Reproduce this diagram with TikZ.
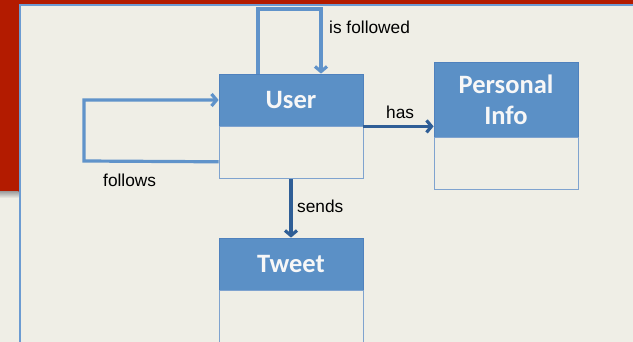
\documentclass[tikz,border=0pt]{standalone}
\usepackage{fontspec}
\setmainfont{Liberation Sans}
\newfontfamily\titlefont{Carlito}
\usetikzlibrary{arrows.meta}
\definecolor{cream}{HTML}{EFEEE6}
\definecolor{slidered}{HTML}{B31B00}
\definecolor{panelblue}{HTML}{6C9BD2}
\definecolor{headblue}{HTML}{5B90C6}
\definecolor{edgeblue}{HTML}{4F81BD}
\definecolor{bodyedge}{HTML}{7FA3CF}
\definecolor{loopblue}{HTML}{6093CA}
\definecolor{darkblue}{HTML}{2F5E96}
\tikzset{
  header/.style={rectangle, fill=headblue, draw=edgeblue, line width=0.8pt,
    minimum width=144pt, minimum height=52pt, inner sep=0pt,
    font=\titlefont\bfseries\fontsize{26.5}{31}\selectfont, text=white!97!black, align=center},
  bodybox/.style={rectangle, fill=cream, draw=bodyedge, line width=0.8pt,
    minimum width=144pt, minimum height=52pt, inner sep=0pt},
  loopline/.style={draw=loopblue, line width=3.2pt, -{Straight Barb[length=5pt,width=12pt]}},
  relline/.style={draw=darkblue, line width=3.2pt, -{Straight Barb[length=5pt,width=12pt]}},
  rellabel/.style={font=\fontsize{17.3}{20}\selectfont, text=black, inner sep=0pt}
}
\begin{document}
\begin{tikzpicture}[x=1pt,y=-1pt]
\fill[cream] (0,0) rectangle (633,342);
\useasboundingbox (0,0) rectangle (633,342);
\fill[slidered] (0,0) rectangle (633,3.6);
\fill[slidered] (0,0) rectangle (18.5,192);
\shade[top color=black!35, bottom color=cream] (0,192) rectangle (18.5,198);
\draw[panelblue, line width=2pt] (20,342) -- (20,4.6) -- (633,4.6);

\node[header] (user) at (291,100) {User};
\node[bodybox, anchor=north] (userb) at (user.south) {};
\node[header, minimum height=75pt] (pinfo) at (506,99.5) {Personal\\Info};
\node[bodybox, anchor=north] (pinfob) at (pinfo.south) {};
\node[header] (tweet) at (291,264) {Tweet};
\node[bodybox, anchor=north] (tweetb) at (tweet.south) {};

\coordinate (topL) at (258,9);
\coordinate (leftB) at (84,161);
\draw[loopline] ([xshift=-33pt]user.north) -- (topL) -| ([xshift=30pt]user.north);
\draw[loopline] ([yshift=-9pt]userb.west) -- (leftB) |- (user.west);
\draw[relline] (user.south east) -- (user.south east -| pinfo.west);
\draw[relline] (userb.south) -- (tweet.north);

\node[rellabel, anchor=west] (lblfollowed) at (329,27) {is followed};
\node[rellabel, anchor=west] (lblfollows) at (103,180) {follows};
\node[rellabel, anchor=west] (lblhas) at (386,112) {has};
\node[rellabel, anchor=west] (lblsends) at (297,206) {sends};
\end{tikzpicture}
\end{document}
